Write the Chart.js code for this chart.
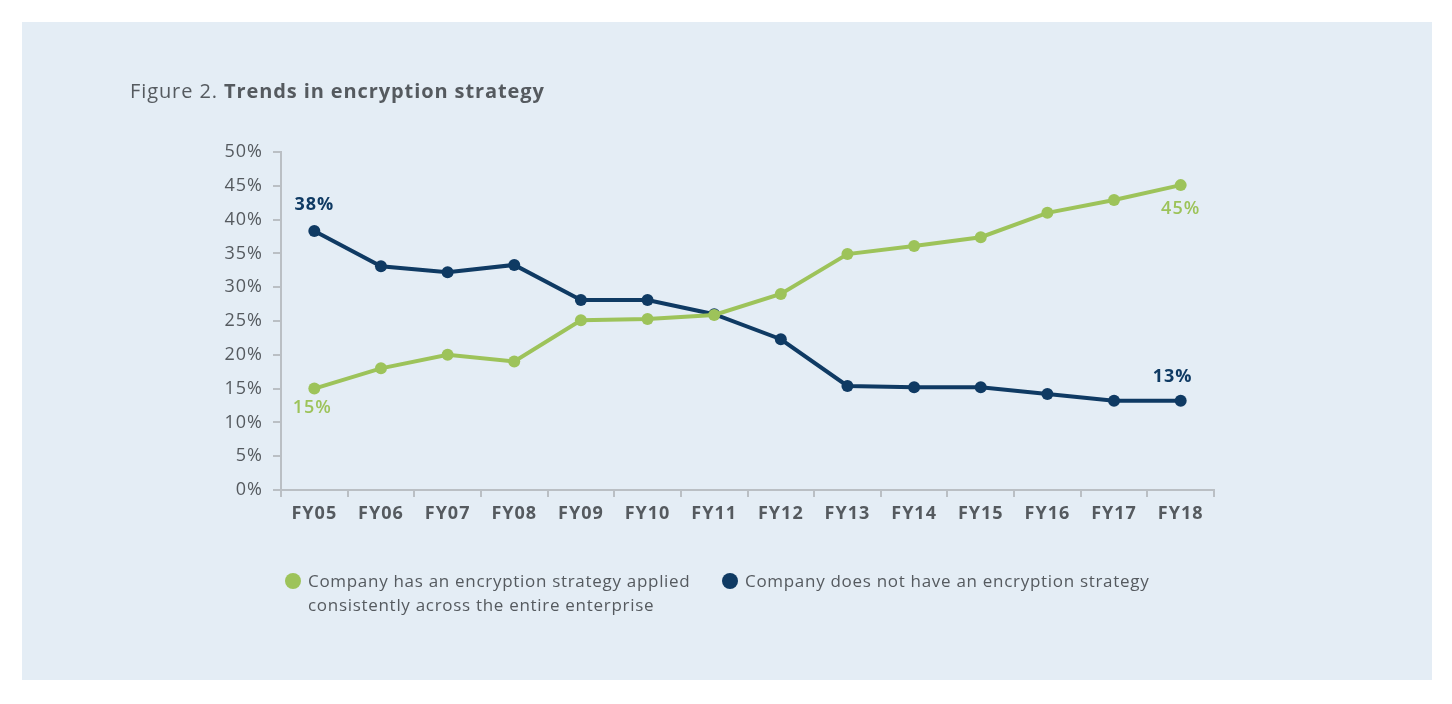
<!DOCTYPE html>
<html>
<head>
<meta charset="utf-8">
<script src="https://cdn.jsdelivr.net/npm/chart.js@4/dist/chart.umd.min.js"></script>
<style>
  html, body { margin: 0; padding: 0; background: #fff; }
  body { width: 1452px; height: 704px; position: relative; overflow: hidden; font-family: "Open Sans", Lato, sans-serif; }
  #panel { position: absolute; left: 22px; top: 22px; width: 1410px; height: 658px; background: #e4edf5; }
  #chart-wrap { position: absolute; left: 0; top: 0; width: 1452px; height: 704px; }
  #title { position: absolute; left: 130px; top: 77px; font-size: 20px; letter-spacing: 0.9px; color: #555a5f; }
  #title b { font-weight: 700; }
  .legend-item { position: absolute; top: 569px; font-size: 17px; letter-spacing: 0.7px; line-height: 24px; color: #555a5f; }
  .legend-item .dot { position: absolute; top: 4px; width: 16px; height: 16px; border-radius: 50%; }
</style>
</head>
<body>
<div id="panel"></div>
<div id="chart-wrap"><canvas id="trendChart" width="1452" height="704"></canvas></div>
<div id="title">Figure 2. <b>Trends in encryption strategy</b></div>
<div class="legend-item" style="left:308px"><span class="dot" style="background:#9dc35a;left:-23px"></span>Company has an encryption strategy applied<br>consistently across the entire enterprise</div>
<div class="legend-item" style="left:745px"><span class="dot" style="background:#0f3a63;left:-23px"></span>Company does not have an encryption strategy</div>
<script>
const years = ['FY05', 'FY06', 'FY07', 'FY08', 'FY09', 'FY10', 'FY11', 'FY12', 'FY13', 'FY14', 'FY15', 'FY16', 'FY17', 'FY18'];
const hasStrategy = [15, 18, 20, 19, 25.1, 25.3, 25.9, 29, 34.9, 36.1, 37.4, 41, 42.9, 45.1];
const noStrategy = [38.3, 33.1, 32.2, 33.3, 28.1, 28.1, 26, 22.3, 15.4, 15.2, 15.2, 14.2, 13.2, 13.2];
const yTicks = [0, 5, 10, 15, 20, 25, 30, 35, 40, 45, 50];

const GREEN = '#9dc35a';
const NAVY = '#0f3a63';
const AXIS = '#babfc4';
const TEXT = '#555a5f';
const FONT = '"Open Sans", Lato, sans-serif';

// widen canvas text a little, the original face is broader
const spacing = {
  id: 'spacing',
  beforeDraw(chart) { chart.ctx.letterSpacing = '1px'; },
};

// end-point value labels
const endLabels = {
  id: 'endLabels',
  afterDatasetsDraw(chart) {
    const ctx = chart.ctx;
    ctx.save();
    ctx.font = 'bold 18px ' + FONT;
    ctx.textAlign = 'center';
    ctx.textBaseline = 'middle';
    const green = chart.getDatasetMeta(0).data;
    const navy = chart.getDatasetMeta(1).data;
    const last = years.length - 1;
    ctx.fillStyle = NAVY;
    ctx.fillText(Math.round(noStrategy[0]) + '%', navy[0].x, navy[0].y - 26);
    ctx.fillText(Math.round(noStrategy[last]) + '%', navy[last].x - 8, navy[last].y - 24);
    ctx.fillStyle = GREEN;
    ctx.font = '600 18px ' + FONT;
    ctx.fillText(Math.round(hasStrategy[0]) + '%', green[0].x - 2, green[0].y + 19);
    ctx.fillText(Math.round(hasStrategy[last]) + '%', green[last].x, green[last].y + 24);
    ctx.restore();
  }
};

new Chart(document.getElementById('trendChart').getContext('2d'), {
  type: 'line',
  data: {
    labels: years,
    datasets: [
      {
        label: 'Company has an encryption strategy applied consistently across the entire enterprise',
        data: hasStrategy,
        borderColor: GREEN,
        backgroundColor: GREEN,
        borderWidth: 4,
        pointRadius: 6,
        pointBorderWidth: 0,
        tension: 0,
      },
      {
        label: 'Company does not have an encryption strategy',
        data: noStrategy,
        borderColor: NAVY,
        backgroundColor: NAVY,
        borderWidth: 4,
        pointRadius: 6,
        pointBorderWidth: 0,
        tension: 0,
      },
    ],
  },
  options: {
    responsive: false,
    animation: false,
    layout: { padding: { left: 200, right: 238, top: 152, bottom: 174 } },
    plugins: { legend: { display: false }, tooltip: { enabled: false } },
    scales: {
      x: {
        offset: true,
        grid: { display: true, offset: true, drawOnChartArea: false, drawTicks: true, tickLength: 7, color: AXIS, lineWidth: 2 },
        border: { color: AXIS, width: 2 },
        ticks: { color: TEXT, font: { family: FONT, size: 18, weight: 'bold' }, padding: 6, maxRotation: 0 },
        afterFit(scale) { scale.height = 40; },
      },
      y: {
        min: 0,
        max: 50,
        afterBuildTicks(scale) { scale.ticks = yTicks.map((v) => ({ value: v })); },
        grid: { display: true, drawOnChartArea: false, drawTicks: true, tickLength: 8, color: AXIS, lineWidth: 2 },
        border: { color: AXIS, width: 2 },
        ticks: { color: TEXT, font: { family: FONT, size: 18 }, padding: 10, callback: (v) => v + '%' },
        afterFit(scale) { scale.width = 81; },
      },
    },
  },
  plugins: [spacing, endLabels],
});
</script>
</body>
</html>
